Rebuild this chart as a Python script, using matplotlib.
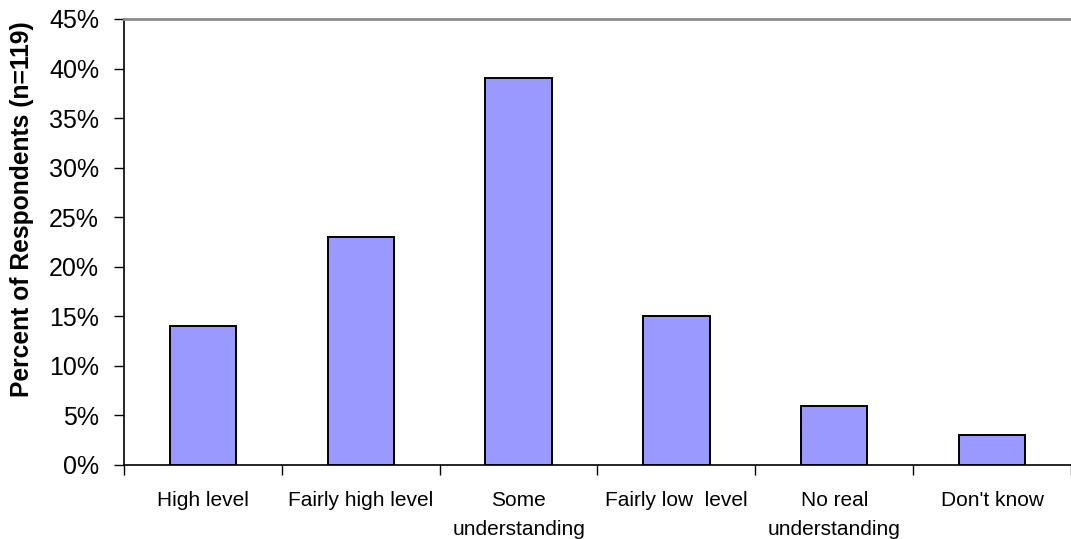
import matplotlib.pyplot as plt
import numpy as np

plt.rcParams['font.family'] = ['Liberation Sans', 'DejaVu Sans']

categories = ['High level', 'Fairly high level', 'Some\nunderstanding',
              'Fairly low  level', 'No real\nunderstanding', "Don't know"]
percent = [14, 23, 39, 15, 6, 3]
yticks = [0, 5, 10, 15, 20, 25, 30, 35, 40, 45]

fig = plt.figure(figsize=(10.71, 5.39), dpi=100)
ax = fig.add_axes([124 / 1071, 74 / 539, 1 - 124 / 1071, (465 - 19) / 539])

x = np.arange(len(categories))
ax.bar(x, percent, width=0.42, color='#9999ff', edgecolor='black', linewidth=1.4, zorder=3)

ax.set_xlim(-0.5, len(categories) - 0.5)
ax.set_ylim(0, 45)
ax.set_yticks(yticks)
ax.set_yticklabels(['{}%'.format(v) for v in yticks], fontsize=18)
ax.tick_params(axis='y', direction='out', length=7, width=1, pad=11)

ax.set_xticks(x)
ax.set_xticklabels(categories, fontsize=15, linespacing=1.65)
ax.tick_params(axis='x', which='major', length=0, pad=19)
ax.set_xticks(np.arange(-0.5, len(categories) + 0.5, 1), minor=True)
ax.tick_params(axis='x', which='minor', direction='out', length=7, width=1)

ax.set_ylabel('Percent of Respondents (n=119)', fontsize=17.7, fontweight='bold')
ax.yaxis.set_label_coords(-0.095, (465 - 209) / 446)

for s in ['left', 'bottom']:
    ax.spines[s].set_color('black')
    ax.spines[s].set_linewidth(1.2)
ax.spines['right'].set_visible(False)
ax.spines['top'].set_color('#8c8c8c')
ax.spines['top'].set_linewidth(2)

fig.savefig('out.png', dpi=100)
